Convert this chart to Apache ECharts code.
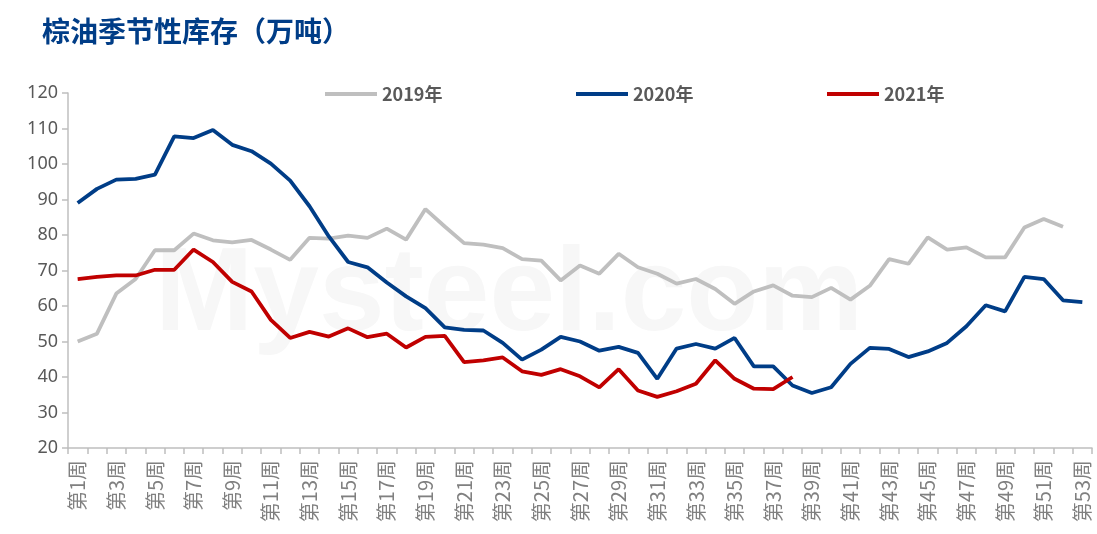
<!DOCTYPE html>
<html>
<head>
<meta charset="utf-8">
<title>棕油季节性库存</title>
<script src="https://cdn.jsdelivr.net/npm/echarts@6/dist/echarts.min.js"></script>
<style>
  html, body { margin: 0; padding: 0; background: #fff; }
  #chart { width: 1097px; height: 534px; }
</style>
</head>
<body>
<div id="chart"></div>
<script>
  // 第1周 ... 第53周
  const weeks = [];
  for (let i = 1; i <= 53; i++) weeks.push('第' + i + '周');

  const y2019 = [50.0, 52.2, 63.5, 67.6, 75.7, 75.7, 80.4, 78.5, 77.9, 78.6,
    75.9, 73.0, 79.2, 79.0, 79.8, 79.2, 81.8, 78.7, 87.3, 82.4,
    77.7, 77.3, 76.3, 73.2, 72.8, 67.2, 71.4, 69.1, 74.7, 70.9,
    69.1, 66.3, 67.6, 64.8, 60.6, 64.1, 65.8, 62.9, 62.5, 65.1,
    61.8, 65.7, 73.2, 71.9, 79.3, 75.9, 76.5, 73.7, 73.7, 82.1,
    84.5, 82.3];
  const y2020 = [89.0, 93.0, 95.6, 95.8, 97.0, 107.8, 107.3, 109.6, 105.4, 103.6,
    100.1, 95.3, 88.1, 79.6, 72.4, 70.9, 66.6, 62.7, 59.4, 54.0,
    53.3, 53.1, 49.6, 44.9, 47.7, 51.3, 50.0, 47.4, 48.5, 46.8,
    39.5, 48.0, 49.3, 48.0, 51.0, 43.0, 43.0, 37.6, 35.5, 37.1,
    43.7, 48.2, 47.9, 45.6, 47.2, 49.6, 54.3, 60.2, 58.5, 68.2,
    67.6, 61.6, 61.1];
  const y2021 = [67.6, 68.2, 68.6, 68.6, 70.2, 70.2, 75.9, 72.4, 66.8, 64.1,
    56.1, 51.0, 52.7, 51.4, 53.7, 51.2, 52.2, 48.3, 51.3, 51.6,
    44.2, 44.7, 45.5, 41.6, 40.6, 42.2, 40.2, 37.1, 42.2, 36.2,
    34.4, 36.0, 38.1, 44.7, 39.5, 36.7, 36.6, 40.0];

  const seriesNames = ['2019年', '2020年', '2021年'];
  const seriesColors = ['#BFBFBF', '#003D87', '#C00000'];
  const seriesData = [y2019, y2020, y2021];
  const legendLeft = [320, 571, 822];

  const chart = echarts.init(document.getElementById('chart'));
  chart.setOption({
    animation: false,
    title: {
      text: '棕油季节性库存（万吨）',
      left: 37,
      top: 12,
      textStyle: {
        color: '#003D87',
        fontSize: 28,
        fontWeight: 'bold',
        fontFamily: 'Noto Sans CJK SC'
      }
    },
    graphic: [
      {
        type: 'text',
        left: 155,
        top: 238,
        silent: true,
        style: {
          text: 'Mysteel.com',
          fill: '#F7F7F7',
          font: 'bold 118px "Liberation Sans"'
        }
      }
    ],
    legend: seriesNames.map((name, i) => {
      return {
        data: [name],
        left: legendLeft[i],
        top: 80,
        itemWidth: 52,
        itemHeight: 4,
        itemGap: 6,
        icon: 'rect',
        textStyle: {
          color: '#595959',
          fontSize: 18,
          fontWeight: 'bold',
          fontFamily: 'Noto Sans CJK SC'
        }
      };
    }),
    grid: {
      top: 93,
      left: 68,
      right: 5,
      bottom: 86
    },
    xAxis: {
      type: 'category',
      boundaryGap: true,
      data: weeks,
      axisLine: {
        show: true,
        lineStyle: { color: '#BFBFBF', width: 1.5 }
      },
      axisTick: {
        show: true,
        interval: 0,
        length: 6,
        lineStyle: { color: '#BFBFBF', width: 1.5 }
      },
      axisLabel: {
        interval: 1,
        rotate: 90,
        margin: 12,
        color: '#808080',
        fontSize: 20,
        fontFamily: 'Noto Sans CJK SC'
      },
      splitLine: { show: false }
    },
    yAxis: {
      type: 'value',
      min: 20,
      max: 120,
      interval: 10,
      axisLine: {
        show: true,
        lineStyle: { color: '#BFBFBF', width: 1.5 }
      },
      axisTick: {
        show: true,
        length: 6,
        lineStyle: { color: '#BFBFBF', width: 1.5 }
      },
      axisLabel: {
        margin: 10,
        color: '#595959',
        fontSize: 18,
        fontFamily: 'Noto Sans'
      },
      splitLine: { show: false }
    },
    series: seriesNames.map((name, i) => {
      return {
        name: name,
        type: 'line',
        data: seriesData[i],
        symbol: 'none',
        color: seriesColors[i],
        lineStyle: { width: 3.8, color: seriesColors[i] }
      };
    })
  });
</script>
</body>
</html>
